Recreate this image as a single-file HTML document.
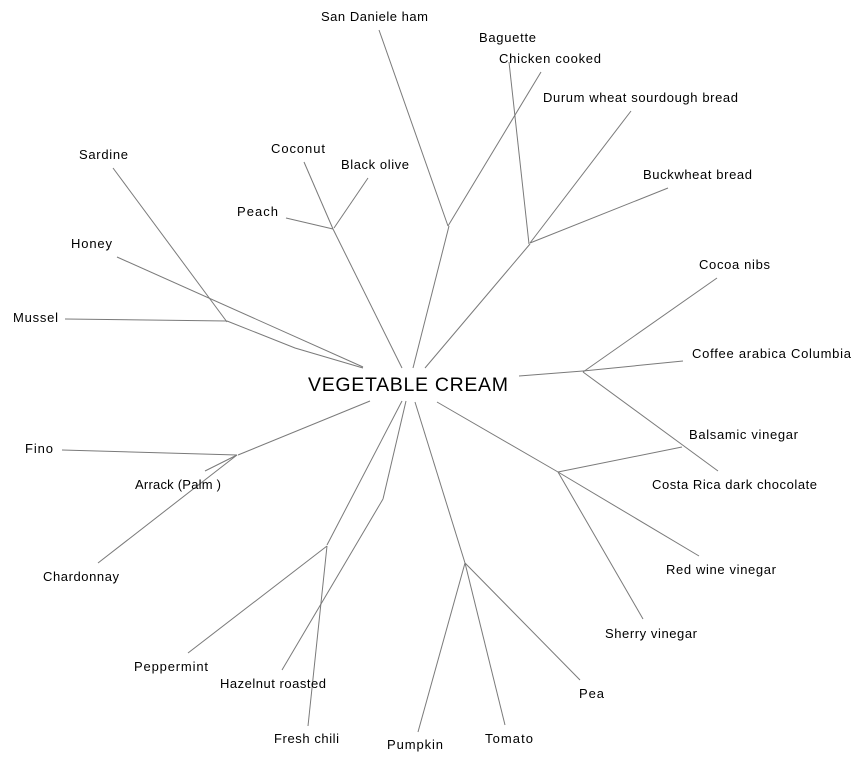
<!DOCTYPE html>
<html><head><meta charset="utf-8"><style>
html,body{margin:0;padding:0;background:#fff;}
svg{display:block;}
text{font-family:"Liberation Sans",Arial,sans-serif;font-size:13px;fill:#000;}
</style></head><body>
<svg width="864" height="762" viewBox="0 0 864 762" xmlns="http://www.w3.org/2000/svg">
<g stroke="#7a7a7a" stroke-width="1" fill="none">
<line x1="113" y1="168" x2="227" y2="322"/>
<line x1="65" y1="319" x2="227" y2="321"/>
<polyline points="227,321 295,348 363,368"/>
<line x1="117" y1="257" x2="363" y2="367"/>
<line x1="304" y1="162" x2="333" y2="229"/>
<line x1="368" y1="178" x2="334" y2="228"/>
<line x1="286" y1="218" x2="333" y2="229"/>
<line x1="333" y1="229" x2="402" y2="368"/>
<line x1="413" y1="368" x2="449" y2="226"/>
<line x1="379" y1="30" x2="448" y2="226"/>
<line x1="541" y1="72" x2="448" y2="226"/>
<line x1="509" y1="62" x2="529" y2="244"/>
<line x1="631" y1="111" x2="530" y2="243"/>
<line x1="668" y1="188" x2="530" y2="243"/>
<line x1="530" y1="244" x2="425" y2="368"/>
<line x1="717" y1="278" x2="583" y2="372"/>
<line x1="683" y1="361" x2="583" y2="371"/>
<line x1="718" y1="471" x2="583" y2="372"/>
<line x1="519" y1="376" x2="583" y2="371"/>
<line x1="682" y1="447" x2="558" y2="472"/>
<line x1="437" y1="402" x2="558" y2="472"/>
<line x1="699" y1="556" x2="558" y2="472"/>
<line x1="643" y1="619" x2="558" y2="472"/>
<line x1="415" y1="402" x2="465" y2="563"/>
<line x1="505" y1="725" x2="465" y2="563"/>
<line x1="580" y1="680" x2="465" y2="563"/>
<line x1="418" y1="732" x2="465" y2="563"/>
<line x1="406" y1="401" x2="383" y2="499"/>
<line x1="282" y1="670" x2="383" y2="499"/>
<line x1="402" y1="401" x2="327" y2="545"/>
<line x1="188" y1="653" x2="327" y2="546"/>
<line x1="308" y1="726" x2="327" y2="546"/>
<line x1="370" y1="401" x2="238" y2="455"/>
<line x1="62" y1="450" x2="237" y2="455"/>
<line x1="205" y1="471" x2="237" y2="455"/>
<line x1="98" y1="563" x2="237" y2="455"/>
</g>
<g>
<text x="321" y="21" textLength="107" lengthAdjust="spacing">San Daniele ham</text>
<text x="479" y="42" textLength="57" lengthAdjust="spacing">Baguette</text>
<text x="499" y="63" textLength="102" lengthAdjust="spacing">Chicken cooked</text>
<text x="543" y="102" textLength="195" lengthAdjust="spacing">Durum wheat sourdough bread</text>
<text x="643" y="179" textLength="109" lengthAdjust="spacing">Buckwheat bread</text>
<text x="699" y="269" textLength="71" lengthAdjust="spacing">Cocoa nibs</text>
<text x="692" y="358" textLength="159" lengthAdjust="spacing">Coffee arabica Columbia</text>
<text x="689" y="439" textLength="109" lengthAdjust="spacing">Balsamic vinegar</text>
<text x="652" y="489" textLength="165" lengthAdjust="spacing">Costa Rica dark chocolate</text>
<text x="666" y="574" textLength="110" lengthAdjust="spacing">Red wine vinegar</text>
<text x="605" y="638" textLength="92" lengthAdjust="spacing">Sherry vinegar</text>
<text x="579" y="698" textLength="25" lengthAdjust="spacing">Pea</text>
<text x="485" y="743" textLength="48" lengthAdjust="spacing">Tomato</text>
<text x="387" y="749" textLength="56" lengthAdjust="spacing">Pumpkin</text>
<text x="274" y="743" textLength="65" lengthAdjust="spacing">Fresh chili</text>
<text x="220" y="688" textLength="106" lengthAdjust="spacing">Hazelnut roasted</text>
<text x="134" y="671" textLength="74" lengthAdjust="spacing">Peppermint</text>
<text x="43" y="581" textLength="76" lengthAdjust="spacing">Chardonnay</text>
<text x="135" y="489" textLength="86" lengthAdjust="spacing">Arrack (Palm )</text>
<text x="25" y="453" textLength="28" lengthAdjust="spacing">Fino</text>
<text x="13" y="322" textLength="45" lengthAdjust="spacing">Mussel</text>
<text x="71" y="248" textLength="41" lengthAdjust="spacing">Honey</text>
<text x="79" y="159" textLength="49" lengthAdjust="spacing">Sardine</text>
<text x="237" y="216" textLength="41" lengthAdjust="spacing">Peach</text>
<text x="271" y="153" textLength="54" lengthAdjust="spacing">Coconut</text>
<text x="341" y="169" textLength="68" lengthAdjust="spacing">Black olive</text>
<text x="308" y="391" style="font-size:19.5px" textLength="200" lengthAdjust="spacing">VEGETABLE CREAM</text>
</g>
</svg>
</body></html>
